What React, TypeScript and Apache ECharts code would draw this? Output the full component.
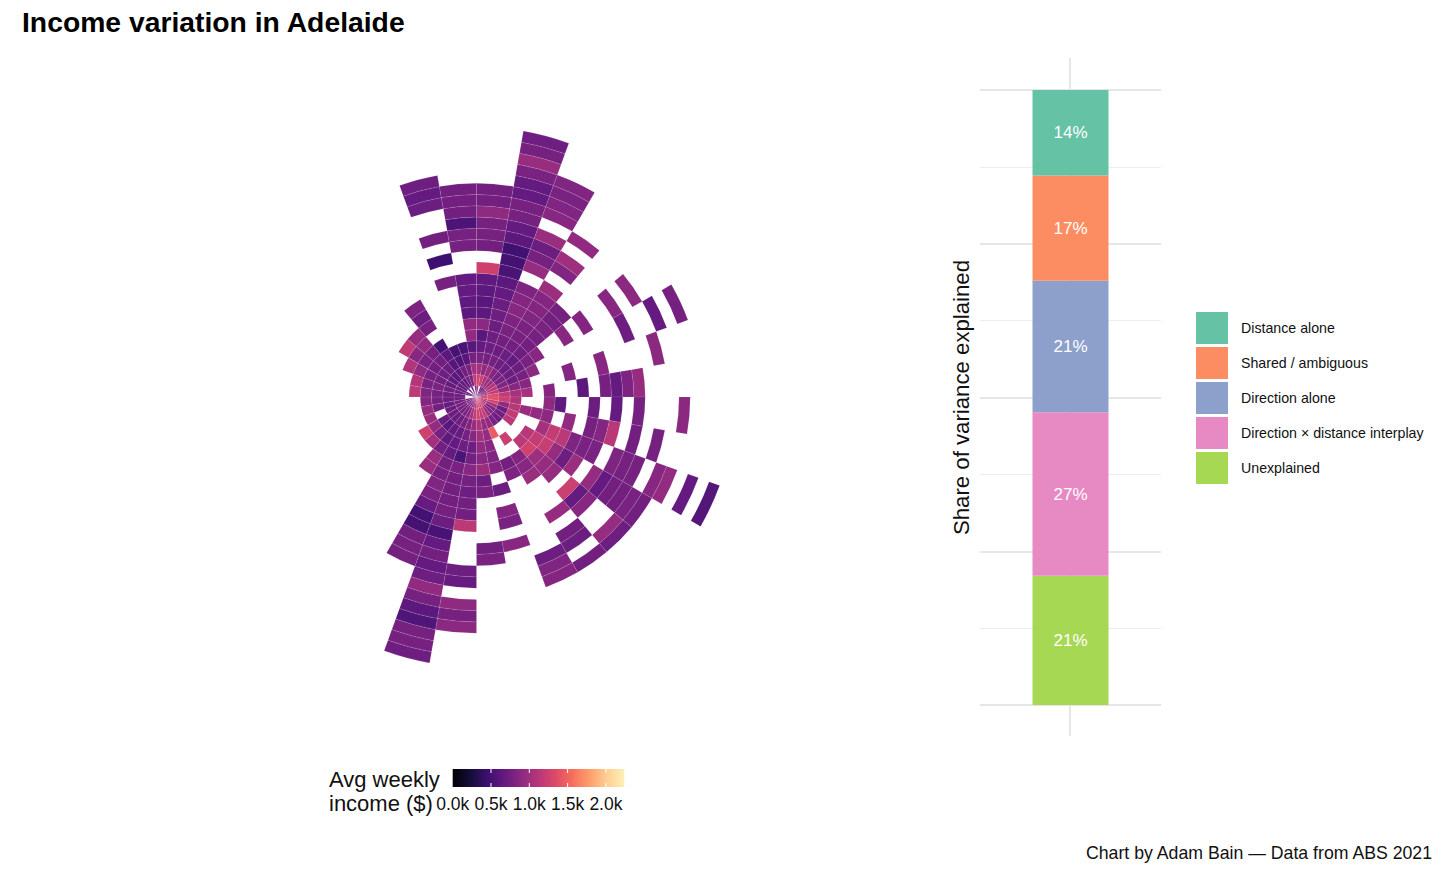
import React, { useEffect, useRef } from "react";
import * as echarts from "echarts";

const _ = null;
// Average weekly income for each 10-degree sector (clockwise from north), ring by ring outwards.
const s00 = [930,1280,1030,790,670,610,890,630,610,630,650,1250,_,750,770,770,910,750,750];
const s01 = [_,1230,920,770,730,730,710,730,710,670,630,530,500,480,630,670,770,770,670,670,790,960,770,730];
const s02 = [760,1030,970,760,710,750,790,810,870,850,810,_,950,770,710,970,_,870,830,790,830];
const s03 = [610,980,850,730,710,750,770,790,830,850,850,980,_,830,990,_,920];
const s04 = [770,980,790,710,670,730,750,770,790,750,770];
const s05 = [870,1080,790,710,710,790,870,_,_,870,_,850,_,_,870,_,890];
const s06 = [970,1130,830,730,770,890,_,_,_,_,_,_,_,_,730,_,_,670,_,770];
const s07 = [1030,1180,950,870,870,_,_,_,850,_,_,870,_,_,_,_,890];
const s08 = [1180,1330,1180,1030,1030,_,850,_,_,630,_,770,670,810,950];
const s09 = [1280,1380,1230,1080,_,_,910,650,_,_,710,_,670,_,770,_,_,_,890];
const s10 = [1180,1280,920,1130,960,920,890,_,920,_,770,850,1130,_,750,_,770];
const s11 = [1030,1030,730,1180,_,_,1020,1190,1140,820,790,790,_,820,770,770,_,870,930,_,670,_,590];
const s12 = [1130,820,750,1130,_,1120,1190,1210,950,730,970,_,950,670,750,750,790,750];
const s13 = [1130,870,730,_,_,1140,1270,990,950,950,_,1230,680,870,_,_,950,730];
const s14 = [1330,980,790,_,1230,_,850,870,970,_,_,_,950,_,750,710,_,750];
const s15 = [1230,1180,920,1450,_,_,750,810,_,_,_,_,_,_,_,710,830,850];
const s16 = [1330,1180,950,930,870,830,850,_,710,_,850,790,_,870];
const s17 = [1280,1280,1080,1010,920,870,970,710,790,_,_,_,_,750,790];
const s18 = [1030,1180,960,870,730,760,870,760,730,750,750,1150,_,_,_,730,690,_,910,770,890];
const s19 = [970,1030,850,770,730,530,790,750,750,750,770,710,520,670,750,670,730,920,770,630,560,770,770,730];
const s20 = [920,850,770,700,670,690,750,770,830,790,690,490,500,750,770,770];
const s21 = [870,790,730,670,650,750,970,970];
const s22 = [830,770,700,620,770,1010];
const s23 = [850,770,720,700,930,1250];
const s24 = [790,750,730,_,970];
const s25 = [770,750,700,750,950];
const s26 = [_,730,720,770,850];
const s27 = [_,730,730,770,830,1160];
const s28 = [670,730,750,790,790,1100];
const s29 = [610,710,700,750,770,910,1090];
const s30 = [_,690,650,730,750,790,870,1170];
const s31 = [670,690,620,730,750,770,930,950];
const s32 = [_,690,640,600,630,500,_,770,710,810];
const s33 = [710,770,750,570,510];
const s34 = [_,790,800,610,530,_,_,_,_,_,770,_,460,_,750,_,_,710,670,730];
const s35 = [770,1180,1020,770,610,920,920,630,650,670,670,_,_,770,770,540,750,750,750];
const sectors = [s00,s01,s02,s03,s04,s05,s06,s07,s08,s09,s10,s11,s12,s13,s14,s15,s16,s17,s18,s19,s20,s21,s22,s23,s24,s25,s26,s27,s28,s29,s30,s31,s32,s33,s34,s35];

const magma = ["#000004","#140e36","#3b0f70","#641a80","#8c2981","#b73779","#de4968","#f7705c","#fe9f6d","#fecf92","#fcf0b8"];
const incomeMax = 2240;
const incomeTicks = [0, 500, 1000, 1500, 2000];
const incomeTickLabels = ["0.0k", "0.5k", "1.0k", "1.5k", "2.0k"];

const shareNames = ["Unexplained", "Direction × distance interplay", "Direction alone", "Shared / ambiguous", "Distance alone"];
const shareValues = [21.0, 26.6, 21.4, 17.1, 13.9];
const shareColors = ["#a6d854", "#e78ac3", "#8da0cb", "#fc8d62", "#66c2a5"];
const legendOrder = ["Distance alone", "Shared / ambiguous", "Direction alone", "Direction × distance interplay", "Unexplained"];

const font = "Liberation Sans, Arial, sans-serif";

export default function App() {
  const ref = useRef<HTMLDivElement>(null);
  useEffect(() => {
    const chart = echarts.init(ref.current!, undefined, { renderer: "svg" });
    const cells: number[][] = [];
    sectors.forEach((rings, s) => rings.forEach((v, k) => { if (v !== null) cells.push([s * 10, k, v as number]); }));

    const barX = 452.7, barW = 171.6, barY = 769, barH = 18;
    const xOf = (v: number) => barX + (v / incomeMax) * barW;
    const barGraphics: any[] = [
      { type: "rect", shape: { x: barX, y: barY, width: barW, height: barH },
        style: { fill: new echarts.graphic.LinearGradient(0, 0, 1, 0, magma.map((c, i) => ({ offset: i / (magma.length - 1), color: c }))) } },
    ];
    incomeTicks.forEach((t, i) => {
      const x = xOf(t);
      if (i > 0) {
        barGraphics.push({ type: "line", shape: { x1: x, y1: barY, x2: x, y2: barY + 4 }, style: { stroke: "#fff", lineWidth: 1 } });
        barGraphics.push({ type: "line", shape: { x1: x, y1: barY + barH - 4, x2: x, y2: barY + barH }, style: { stroke: "#fff", lineWidth: 1 } });
      }
      barGraphics.push({ type: "text", x, y: 804, style: { text: incomeTickLabels[i], fill: "#111", font: `17.5px ${font}`, textAlign: "center", textVerticalAlign: "middle" } });
    });

    chart.setOption({
      animation: false,
      backgroundColor: "#ffffff",
      title: [
        { text: "Income variation in Adelaide", left: 17, top: 3, textStyle: { fontFamily: font, fontWeight: "bold", fontSize: 28.3, color: "#000" } },
        { text: "Chart by Adam Bain — Data from ABS 2021", right: 17, top: 839, textStyle: { fontFamily: font, fontWeight: "normal", fontSize: 17.7, color: "#111" } },
        { text: "Avg weekly\nincome ($)", left: 324, top: 762, textStyle: { fontFamily: font, fontWeight: "normal", fontSize: 22, lineHeight: 24.5, color: "#111" } },
      ],
      polar: { center: [476.5, 397], radius: [0, 270] },
      angleAxis: { type: "value", min: 0, max: 360, startAngle: 90, clockwise: true, show: false },
      radiusAxis: { type: "value", min: 0, max: 24, show: false },
      visualMap: { show: false, type: "continuous", seriesIndex: 0, dimension: 2, min: 0, max: incomeMax, inRange: { color: magma } },
      grid: { left: 980, width: 181, top: 90, height: 615 },
      xAxis: { type: "category", data: ["share"], show: false },
      yAxis: {
        type: "value", min: 0, max: 100, interval: 25,
        name: "Share of variance explained", nameLocation: "middle", nameRotate: 90, nameGap: 8,
        nameTextStyle: { fontFamily: font, fontSize: 22.2, color: "#111" },
        axisLine: { show: false }, axisTick: { show: false }, axisLabel: { show: false },
        splitLine: { show: true, lineStyle: { color: "#e6e6e6", width: 2 } },
        minorTick: { show: false, splitNumber: 2 },
        minorSplitLine: { show: true, lineStyle: { color: "#ededed", width: 1 } },
      },
      legend: {
        orient: "vertical", left: 1191, top: 307, itemWidth: 32, itemHeight: 32, itemGap: 3, icon: "rect",
        data: legendOrder,
        textStyle: { fontFamily: font, fontSize: 14.2, color: "#111", padding: [0, 0, 0, 8] },
        selectedMode: false,
      },
      graphic: [
        { type: "line", z: 0, shape: { x1: 1070, y1: 58, x2: 1070, y2: 736 }, style: { stroke: "#e6e6e6", lineWidth: 2 } },
        ...barGraphics,
      ],
      series: [
        {
          type: "custom", coordinateSystem: "polar", data: cells, encode: { angle: 0, radius: 1 },
          renderItem: (params: any, api: any) => {
            const t0 = api.value(0), k = api.value(1);
            const { cx, cy } = params.coordSys;
            const a = api.coord([k, t0 + 0.0001]), b = api.coord([k + 1, t0 + 0.0001]), c = api.coord([k + 1, t0 + 10]);
            const r0 = Math.hypot(a[0] - cx, a[1] - cy);
            const r = Math.hypot(b[0] - cx, b[1] - cy);
            const start = Math.atan2(b[1] - cy, b[0] - cx);
            let end = Math.atan2(c[1] - cy, c[0] - cx);
            if (end < start) end += Math.PI * 2;
            return {
              type: "sector",
              shape: { cx, cy, r0, r, startAngle: start, endAngle: end, clockwise: true },
              style: { fill: api.visual("color"), stroke: "rgba(255,255,255,0.16)", lineWidth: 0.6 },
            };
          },
        },
        ...shareNames.map((name, i) => ({
          type: "bar", name, stack: "share", barWidth: 76, data: [shareValues[i]],
          itemStyle: { color: shareColors[i] },
          label: { show: true, position: "inside", formatter: (p: any) => `${Math.round(p.value)}%`, color: "#fff", fontFamily: font, fontSize: 17 },
        })),
      ],
    });
    return () => chart.dispose();
  }, []);
  return <div ref={ref} style={{ position: "absolute", left: 0, top: 0, width: 1456, height: 874 }} />;
}
